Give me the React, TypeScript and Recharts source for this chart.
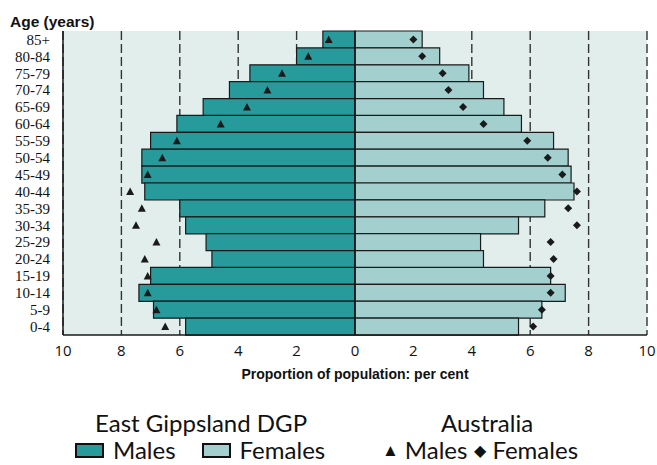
import React from 'react';
import {
  ComposedChart,
  Bar,
  Line,
  XAxis,
  YAxis,
  CartesianGrid,
  ReferenceLine,
} from 'recharts';

// Age groups, top to bottom as in the pyramid
const ages = [
  '85+', '80-84', '75-79', '70-74', '65-69', '60-64', '55-59', '50-54', '45-49',
  '40-44', '35-39', '30-34', '25-29', '20-24', '15-19', '10-14', '5-9', '0-4',
];

// East Gippsland DGP, per cent of population
const gippsMales = [1.1, 2.0, 3.6, 4.3, 5.2, 6.1, 7.0, 7.3, 7.3, 7.2, 6.0, 5.8, 5.1, 4.9, 7.0, 7.4, 6.9, 5.8];
const gippsFemales = [2.3, 2.9, 3.9, 4.4, 5.1, 5.7, 6.8, 7.3, 7.4, 7.5, 6.5, 5.6, 4.3, 4.4, 6.7, 7.2, 6.4, 5.6];

// Australia, per cent of population
const ausMales = [0.9, 1.6, 2.5, 3.0, 3.7, 4.6, 6.1, 6.6, 7.1, 7.7, 7.3, 7.5, 6.8, 7.2, 7.1, 7.1, 6.8, 6.5];
const ausFemales = [2.0, 2.3, 3.0, 3.2, 3.7, 4.4, 5.9, 6.6, 7.1, 7.6, 7.3, 7.6, 6.7, 6.8, 6.7, 6.7, 6.4, 6.1];

const xTicks = [-10, -8, -6, -4, -2, 0, 2, 4, 6, 8, 10];

const TEAL = '#279a9b';
const LIGHT = '#a3d0cf';
const BG = '#e2eeec';
const INK = '#1a1a1a';

// males go to the left, so they are stored negative
const data = ages.map((age, i) => ({
  age,
  males: -gippsMales[i],
  females: gippsFemales[i],
  ausMales: -ausMales[i],
  ausFemales: ausFemales[i],
}));

const Triangle = (props: any) => {
  const { cx, cy } = props;
  if (cx == null || cy == null) return null;
  return <path d={`M${cx},${cy - 4} L${cx + 4},${cy + 3.5} L${cx - 4},${cy + 3.5} Z`} fill={INK} />;
};

const Diamond = (props: any) => {
  const { cx, cy } = props;
  if (cx == null || cy == null) return null;
  return <path d={`M${cx},${cy - 4} L${cx + 4},${cy} L${cx},${cy + 4} L${cx - 4},${cy} Z`} fill={INK} />;
};

const legendFont: React.CSSProperties = {
  fontFamily: 'Lato, sans-serif',
  fontSize: 24,
  color: '#111',
  position: 'absolute',
  whiteSpace: 'nowrap',
  lineHeight: 1,
};

const swatch = (fill: string): React.CSSProperties => ({
  display: 'inline-block',
  width: 25,
  height: 11,
  background: fill,
  border: '2px solid #111',
  marginRight: 9,
  verticalAlign: 'middle',
  position: 'relative',
  top: -2,
});

export default function App() {
  return (
    <div style={{ position: 'relative', width: 657, height: 465, background: '#fff' }}>
      <style>{'body{margin:0}'}</style>
      <div
        style={{
          position: 'absolute',
          left: 10,
          top: 13,
          fontFamily: '"Liberation Sans", Arial, sans-serif',
          fontWeight: 700,
          fontSize: 15.5,
          color: '#111',
        }}
      >
        Age (years)
      </div>

      <ComposedChart
        width={657}
        height={465}
        data={data}
        layout="vertical"
        stackOffset="sign"
        barCategoryGap={0}
        margin={{ top: 31, right: 10, bottom: 90, left: 0 }}
      >
        <CartesianGrid
          xAxisId="main"
          yAxisId="l"
          horizontal={false}
          strokeDasharray="9 4"
          stroke="#333"
          strokeWidth={1.4}
          fill={BG}
          fillOpacity={1}
        />
        {/* inward ticks along the top and bottom frame */}
        <XAxis
          xAxisId="top"
          type="number"
          orientation="top"
          domain={[-10, 10]}
          ticks={xTicks}
          mirror
          height={0}
          tickSize={5}
          tickFormatter={() => ''}
          axisLine={{ stroke: INK, strokeWidth: 1.5 }}
          tickLine={{ stroke: INK }}
        />
        <XAxis
          xAxisId="bm"
          type="number"
          orientation="bottom"
          domain={[-10, 10]}
          ticks={xTicks}
          mirror
          height={0}
          tickSize={5}
          tickFormatter={() => ''}
          axisLine={false}
          tickLine={{ stroke: INK }}
        />
        <XAxis
          xAxisId="main"
          type="number"
          domain={[-10, 10]}
          ticks={xTicks}
          tickFormatter={(v: number) => `${Math.abs(v)}`}
          tick={{ fill: '#111', fontSize: 15, fontFamily: '"Open Sans", sans-serif' }}
          tickLine={false}
          tickSize={6}
          tickMargin={4}
          height={40}
          axisLine={{ stroke: INK, strokeWidth: 1.5 }}
          label={{
            value: 'Proportion of population: per cent',
            position: 'insideBottom',
            offset: -4,
            fill: '#111',
            fontSize: 14,
            fontWeight: 700,
            fontFamily: '"Liberation Sans", Arial, sans-serif',
          }}
        />
        <YAxis
          yAxisId="l"
          type="category"
          dataKey="age"
          width={63}
          tickLine={false}
          tickMargin={7}
          interval={0}
          tick={{ fill: '#111', fontSize: 15, fontFamily: '"Liberation Serif", serif' }}
          axisLine={{ stroke: INK, strokeWidth: 1.5 }}
        />
        <YAxis
          yAxisId="r"
          type="category"
          dataKey="age"
          orientation="right"
          width={0}
          tick={false}
          tickLine={false}
          axisLine={{ stroke: INK, strokeWidth: 1.5 }}
        />
        <Bar
          xAxisId="main"
          yAxisId="l"
          dataKey="males"
          stackId="pop"
          fill={TEAL}
          stroke={INK}
          strokeWidth={1.2}
          isAnimationActive={false}
        />
        <Bar
          xAxisId="main"
          yAxisId="l"
          dataKey="females"
          stackId="pop"
          fill={LIGHT}
          stroke={INK}
          strokeWidth={1.2}
          isAnimationActive={false}
        />
        <ReferenceLine xAxisId="main" yAxisId="l" x={0} stroke={INK} strokeWidth={1.6} />
        <Line
          xAxisId="main"
          yAxisId="l"
          dataKey="ausMales"
          stroke="none"
          dot={<Triangle />}
          activeDot={false}
          isAnimationActive={false}
        />
        <Line
          xAxisId="main"
          yAxisId="l"
          dataKey="ausFemales"
          stroke="none"
          dot={<Diamond />}
          activeDot={false}
          isAnimationActive={false}
        />
      </ComposedChart>

      {/* legend */}
      <div style={{ ...legendFont, left: 95, top: 411 }}>East Gippsland DGP</div>
      <div style={{ ...legendFont, left: 75, top: 438 }}>
        <span style={swatch(TEAL)} />
        Males
        <span style={{ ...swatch(LIGHT), marginLeft: 26 }} />
        Females
      </div>
      <div style={{ ...legendFont, left: 441, top: 411 }}>Australia</div>
      <div style={{ ...legendFont, left: 382, top: 438 }}>
        <span style={{ fontSize: 17, position: 'relative', top: -3, marginRight: 6 }}>▲</span>
        Males
        <span style={{ fontSize: 16, position: 'relative', top: -3, marginLeft: 7, marginRight: 6 }}>◆</span>
        Females
      </div>
    </div>
  );
}
